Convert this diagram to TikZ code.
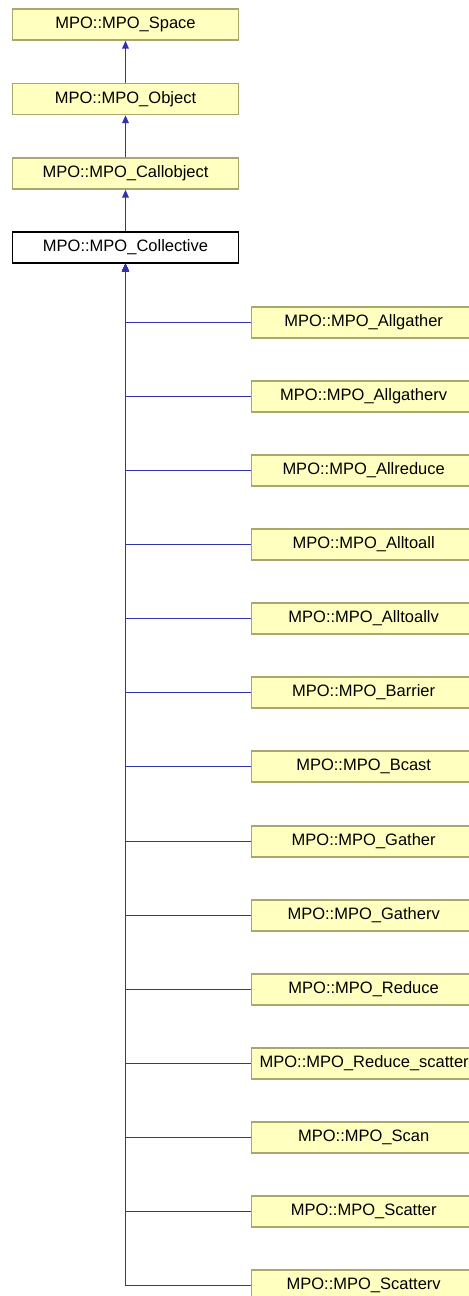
\documentclass[tikz,border=0pt]{standalone}
\usepackage{fontspec}
\setmainfont{Liberation Sans}
\usetikzlibrary{positioning,arrows.meta}
\definecolor{DoxFill}{RGB}{255,255,192}
\definecolor{DoxBorder}{RGB}{168,168,110}
\definecolor{DoxEdge}{RGB}{50,50,175}

\begin{document}
\begin{tikzpicture}[
    x=1bp, y=-1bp,
    font=\fontsize{16.5bp}{19bp}\selectfont,
    >={Triangle[length=8bp,width=6.5bp]},
    box/.style={
        draw=DoxBorder,
        fill=DoxFill,
        line width=1.3bp,
        inner xsep=8bp,
        minimum width=226bp,
        minimum height=31bp
    },
    basebox/.style={
        box,
        draw=black,
        fill=white
    },
    leafbox/.style={
        box,
        anchor=west,
        minimum width=224bp
    },
    arrow/.style={
        ->,
        line width=1.8bp,
        draw=DoxEdge
    }
]
\useasboundingbox (0,0) rectangle (469,1296);

% inheritance chain
\node[box] (space) at (125.5,24.5) {MPO::MPO\_Space};
\node[box] (object) at (125.5,99) {MPO::MPO\_Object};
\node[box] (callobj) at (125.5,173.5) {MPO::MPO\_Callobject};
\node[basebox] (coll) at (125.5,247.5) {MPO::MPO\_Collective};

\draw[arrow] (object) -- (space);
\draw[arrow] (callobj) -- (object);
\draw[arrow] (coll) -- (callobj);

% derived classes
\node[leafbox] (allgather) at (251,322.5) {MPO::MPO\_Allgather};
\node[leafbox] (allgatherv) at (251,396.5) {MPO::MPO\_Allgatherv};
\node[leafbox] (allreduce) at (251,470.5) {MPO::MPO\_Allreduce};
\node[leafbox] (alltoall) at (251,544.5) {MPO::MPO\_Alltoall};
\node[leafbox] (alltoallv) at (251,618.5) {MPO::MPO\_Alltoallv};
\node[leafbox] (barrier) at (251,692.5) {MPO::MPO\_Barrier};
\node[leafbox] (bcast) at (251,766.5) {MPO::MPO\_Bcast};
\node[leafbox] (gather) at (251,841.5) {MPO::MPO\_Gather};
\node[leafbox] (gatherv) at (251,915.5) {MPO::MPO\_Gatherv};
\node[leafbox] (reduce) at (251,989.5) {MPO::MPO\_Reduce};
\node[leafbox] (redscat) at (251,1063.5) {MPO::MPO\_Reduce\_scatter};
\node[leafbox] (scan) at (251,1137.5) {MPO::MPO\_Scan};
\node[leafbox] (scatter) at (251,1211.5) {MPO::MPO\_Scatter};
\node[leafbox] (scatterv) at (251,1285.5) {MPO::MPO\_Scatterv};

\draw[arrow] (allgather.west) -| (coll.south);
\draw[arrow] (allgatherv.west) -| (coll.south);
\draw[arrow] (allreduce.west) -| (coll.south);
\draw[arrow] (alltoall.west) -| (coll.south);
\draw[arrow] (alltoallv.west) -| (coll.south);
\draw[arrow] (barrier.west) -| (coll.south);
\draw[arrow] (bcast.west) -| (coll.south);
\draw[arrow] (gather.west) -| (coll.south);
\draw[arrow] (gatherv.west) -| (coll.south);
\draw[arrow] (reduce.west) -| (coll.south);
\draw[arrow] (redscat.west) -| (coll.south);
\draw[arrow] (scan.west) -| (coll.south);
\draw[arrow] (scatter.west) -| (coll.south);
\draw[arrow] (scatterv.west) -| (coll.south);

\end{tikzpicture}
\end{document}
